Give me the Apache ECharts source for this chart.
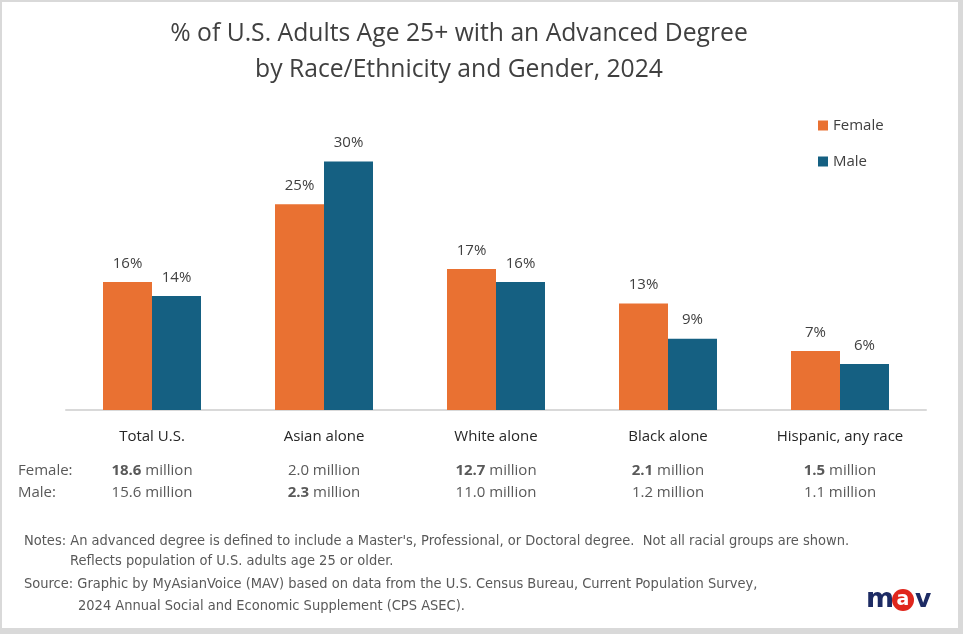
<!DOCTYPE html>
<html>
<head>
<meta charset="utf-8">
<script src="https://cdn.jsdelivr.net/npm/echarts@6/dist/echarts.min.js"></script>
<style>
  html, body { margin: 0; padding: 0; background: #fff; }
  #main { width: 963px; height: 634px; }
</style>
</head>
<body>
<div id="main"></div>
<script>
// chart data
var categories = ["Total U.S.", "Asian alone", "White alone", "Black alone", "Hispanic, any race"];
var femalePct = [15.6, 25.1, 17.2, 13.0, 7.2];
var malePct = [13.9, 30.3, 15.6, 8.7, 5.6];
var femaleMillions = [18.6, 2.0, 12.7, 2.1, 1.5];
var maleMillions = [15.6, 2.3, 11.0, 1.2, 1.1];

var ORANGE = "#E97132";
var BLUE = "#156082";
var FONT = "Open Sans";
var NOTE_FONT = "14.5px 'Liberation Sans Narrow', 'DejaVu Sans Condensed'";

function countText(v, other) {
  var num = v.toFixed(1);
  if (v > other) return "{b|" + num + "}{n| million}";
  return "{n|" + num + " million}";
}

var chart = echarts.init(document.getElementById("main"));

var option = {
  backgroundColor: "#d9d9d9",
  textStyle: { fontFamily: FONT },
  animation: false,
  title: {
    text: "% of U.S. Adults Age 25+ with an Advanced Degree\nby Race/Ethnicity and Gender, 2024",
    left: 454, top: 11,
    textAlign: "center",
    textStyle: { fontFamily: FONT, fontSize: 24.7, fontWeight: "normal", color: "#404040", lineHeight: 36 }
  },
  legend: {
    data: ["Female", "Male"],
    orient: "vertical",
    left: 813, top: 113,
    icon: "rect",
    itemWidth: 10, itemHeight: 10,
    itemGap: 21,
    textStyle: { fontFamily: FONT, fontSize: 15, color: "#404040" }
  },
  grid: { left: 66, right: 37, top: 123, bottom: 224 },
  xAxis: {
    type: "category",
    data: categories,
    axisLine: { lineStyle: { color: "#d9d9d9", width: 2 } },
    axisTick: { show: false },
    axisLabel: {
      interval: 0,
      margin: 16,
      formatter: function (value, i) {
        return "{cat|" + value + "}\n{gap| }\n" +
          countText(femaleMillions[i], maleMillions[i]) + "\n" +
          countText(maleMillions[i], femaleMillions[i]);
      },
      rich: {
        cat: { fontFamily: FONT, fontSize: 15, color: "#262626", lineHeight: 22 },
        gap: { fontSize: 8, lineHeight: 12 },
        b: { fontFamily: FONT, fontSize: 15, fontWeight: "bold", color: "#595959", lineHeight: 22 },
        n: { fontFamily: FONT, fontSize: 15, color: "#595959", lineHeight: 22 }
      }
    }
  },
  yAxis: {
    type: "value",
    min: 0, max: 35,
    show: false,
    splitLine: { show: false }
  },
  series: [
    {
      name: "Female",
      type: "bar",
      data: femalePct,
      barWidth: 49,
      barGap: "0%",
      itemStyle: { color: ORANGE },
      label: {
        show: true, position: "top", distance: 11,
        fontFamily: FONT, fontSize: 15, color: "#404040",
        formatter: function (p) { return Math.round(p.value) + "%"; }
      }
    },
    {
      name: "Male",
      type: "bar",
      data: malePct,
      barWidth: 49,
      barGap: "0%",
      itemStyle: { color: BLUE },
      label: {
        show: true, position: "top", distance: 11,
        fontFamily: FONT, fontSize: 15, color: "#404040",
        formatter: function (p) { return Math.round(p.value) + "%"; }
      }
    }
  ],
  graphic: [
    {
      type: "rect", z: -10, silent: true,
      shape: { x: 2, y: 2, width: 956, height: 626 },
      style: { fill: "#ffffff" }
    },
    {
      type: "text", left: 18, top: 463,
      style: { text: "Female:", font: "15px '" + FONT + "'", fill: "#595959" }
    },
    {
      type: "text", left: 18, top: 485,
      style: { text: "Male:", font: "15px '" + FONT + "'", fill: "#595959" }
    },
    {
      type: "text", left: 24, top: 534,
      style: {
        text: "Notes: An advanced degree is defined to include a Master's, Professional, or Doctoral degree.  Not all racial groups are shown.",
        font: NOTE_FONT, fill: "#595959"
      }
    },
    {
      type: "text", left: 70, top: 554,
      style: { text: "Reflects population of U.S. adults age 25 or older.", font: NOTE_FONT, fill: "#595959" }
    },
    {
      type: "text", left: 24, top: 577,
      style: {
        text: "Source: Graphic by MyAsianVoice (MAV) based on data from the U.S. Census Bureau, Current Population Survey,",
        font: NOTE_FONT, fill: "#595959"
      }
    },
    {
      type: "text", left: 78, top: 599,
      style: { text: "2024 Annual Social and Economic Supplement (CPS ASEC).", font: NOTE_FONT, fill: "#595959" }
    },
    // mav logo
    {
      type: "text", left: 866, top: 586,
      style: { text: "m", font: "bold 27px 'DejaVu Sans'", fill: "#1d2b64" }
    },
    {
      type: "circle",
      shape: { cx: 903, cy: 600, r: 11 },
      style: { fill: "#e0261c" }
    },
    {
      type: "text", x: 903, y: 600,
      style: { text: "a", font: "bold 19px 'DejaVu Sans'", fill: "#ffffff", align: "center", verticalAlign: "middle" }
    },
    {
      type: "text", left: 915, top: 588,
      style: { text: "v", font: "bold 25px 'DejaVu Sans'", fill: "#1d2b64" }
    }
  ]
};

chart.setOption(option);
</script>
</body>
</html>
